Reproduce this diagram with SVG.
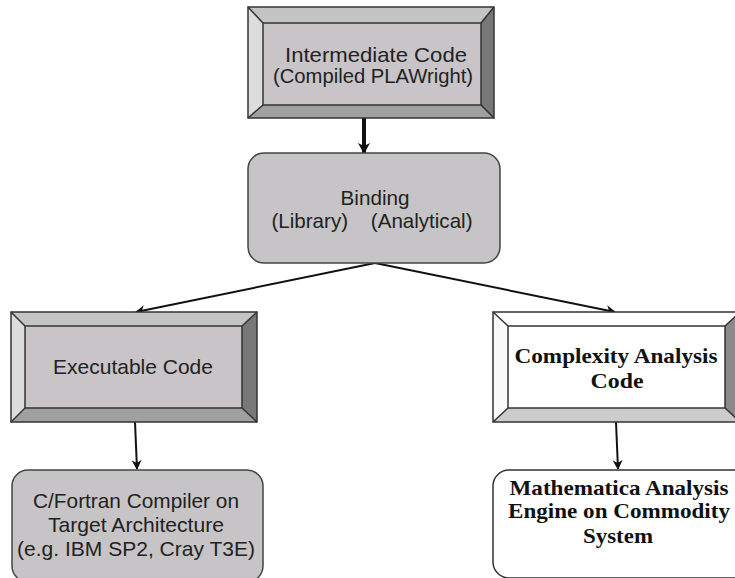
<svg xmlns="http://www.w3.org/2000/svg" width="735" height="578" viewBox="0 0 735 578">
<defs>
<style>
.sans{font-family:"Liberation Sans",Arial,sans-serif;font-size:21px;fill:#222;text-anchor:middle}
.serif{font-family:"Liberation Serif","Times New Roman",serif;font-size:21px;font-weight:bold;fill:#111;text-anchor:middle}
.edge{stroke:#111;fill:none}
.bv{stroke:#333;stroke-width:1.5;fill:none}
</style>
<marker id="ah" markerWidth="10" markerHeight="10" refX="9" refY="5" orient="auto" markerUnits="userSpaceOnUse">
<path d="M0,0 L10,5 L0,10 L3,5 Z" fill="#111"/>
</marker>
<marker id="ahb" markerWidth="12" markerHeight="12" refX="10" refY="6" orient="auto" markerUnits="userSpaceOnUse">
<path d="M0,0 L11,6 L0,12 L3,6 Z" fill="#111"/>
</marker>
</defs>
<rect width="735" height="578" fill="#fff"/>
<g id="connectors">
<line class="edge" x1="364" y1="118" x2="364" y2="153" stroke-width="4" marker-end="url(#ahb)"/>
<line class="edge" x1="375" y1="263" x2="136" y2="312" stroke-width="2" marker-end="url(#ah)"/>
<line class="edge" x1="375" y1="263" x2="615" y2="312" stroke-width="2" marker-end="url(#ah)"/>
<line class="edge" x1="135" y1="422" x2="137" y2="469" stroke-width="2" marker-end="url(#ah)"/>
<line class="edge" x1="616" y1="422" x2="618" y2="469" stroke-width="2" marker-end="url(#ah)"/>
</g>
<g id="intermediate">
<polygon points="248,7 494,7 481,23 263,23" fill="#c4c4c4"/>
<polygon points="248,7 263,23 263,105 248,118" fill="#dcdcdc"/>
<polygon points="494,7 494,118 481,105 481,23" fill="#787878"/>
<polygon points="248,118 263,105 481,105 494,118" fill="#a0a0a0"/>
<rect x="263" y="23" width="218" height="82" fill="#c8c4c8"/>
<rect class="bv" x="248" y="7" width="246" height="111"/>
<rect class="bv" x="263" y="23" width="218" height="82"/>
<line class="bv" x1="248" y1="7" x2="263" y2="23"/>
<line class="bv" x1="494" y1="7" x2="481" y2="23"/>
<line class="bv" x1="248" y1="118" x2="263" y2="105"/>
<line class="bv" x1="494" y1="118" x2="481" y2="105"/>
<text class="sans" x="376" y="62" textLength="182" lengthAdjust="spacingAndGlyphs">Intermediate Code</text>
<text class="sans" x="373" y="83" textLength="200" lengthAdjust="spacingAndGlyphs">(Compiled PLAWright)</text>
</g>
<g id="binding">
<rect x="248" y="153" width="252" height="110" rx="16" fill="#c6c4c6" stroke="#444" stroke-width="1.5"/>
<text class="sans" x="375" y="205" textLength="69" lengthAdjust="spacingAndGlyphs">Binding</text>
<text class="sans" x="372" y="228" xml:space="preserve" textLength="201" lengthAdjust="spacingAndGlyphs">(Library)    (Analytical)</text>
</g>
<g id="executable">
<polygon points="11,312 257,312 242,326 25,326" fill="#c4c4c4"/>
<polygon points="11,312 25,326 25,408 11,422" fill="#dcdcdc"/>
<polygon points="257,312 257,422 242,408 242,326" fill="#787878"/>
<polygon points="11,422 25,408 242,408 257,422" fill="#a0a0a0"/>
<rect x="25" y="326" width="217" height="82" fill="#c8c4c8"/>
<rect class="bv" x="11" y="312" width="246" height="110"/>
<rect class="bv" x="25" y="326" width="217" height="82"/>
<line class="bv" x1="11" y1="312" x2="25" y2="326"/>
<line class="bv" x1="257" y1="312" x2="242" y2="326"/>
<line class="bv" x1="11" y1="422" x2="25" y2="408"/>
<line class="bv" x1="257" y1="422" x2="242" y2="408"/>
<text class="sans" x="133" y="374" font-size="22" textLength="160" lengthAdjust="spacingAndGlyphs">Executable Code</text>
</g>
<g id="complexity">
<polygon points="493,312 740,312 725,326 508,326" fill="#fff"/>
<polygon points="493,312 508,326 508,408 493,422" fill="#fafafa"/>
<polygon points="740,312 740,422 725,408 725,326" fill="#8a8a8a"/>
<polygon points="493,422 508,408 725,408 740,422" fill="#cccccc"/>
<rect x="508" y="326" width="217" height="82" fill="#fff"/>
<rect class="bv" x="493" y="312" width="247" height="110"/>
<rect class="bv" x="508" y="326" width="217" height="82"/>
<line class="bv" x1="493" y1="312" x2="508" y2="326"/>
<line class="bv" x1="740" y1="312" x2="725" y2="326"/>
<line class="bv" x1="493" y1="422" x2="508" y2="408"/>
<line class="bv" x1="740" y1="422" x2="725" y2="408"/>
<text class="serif" x="616" y="363" textLength="203" lengthAdjust="spacingAndGlyphs">Complexity Analysis</text>
<text class="serif" x="617" y="388" textLength="53" lengthAdjust="spacingAndGlyphs">Code</text>
</g>
<g id="compiler">
<rect x="12" y="470" width="251" height="112" rx="16" fill="#c6c4c6" stroke="#444" stroke-width="1.5"/>
<text class="sans" x="136" y="508" textLength="206" lengthAdjust="spacingAndGlyphs">C/Fortran Compiler on</text>
<text class="sans" x="136" y="532" textLength="176" lengthAdjust="spacingAndGlyphs">Target Architecture</text>
<text class="sans" x="136" y="556" textLength="238" lengthAdjust="spacingAndGlyphs">(e.g. IBM SP2, Cray T3E)</text>
</g>
<g id="mathematica">
<rect x="493" y="470" width="260" height="108" rx="16" fill="#fff" stroke="#333" stroke-width="1.5"/>
<text class="serif" x="619" y="495" textLength="219" lengthAdjust="spacingAndGlyphs">Mathematica Analysis</text>
<text class="serif" x="619" y="518" textLength="222" lengthAdjust="spacingAndGlyphs">Engine on Commodity</text>
<text class="serif" x="618" y="543" textLength="70" lengthAdjust="spacingAndGlyphs">System</text>
</g>
</svg>
